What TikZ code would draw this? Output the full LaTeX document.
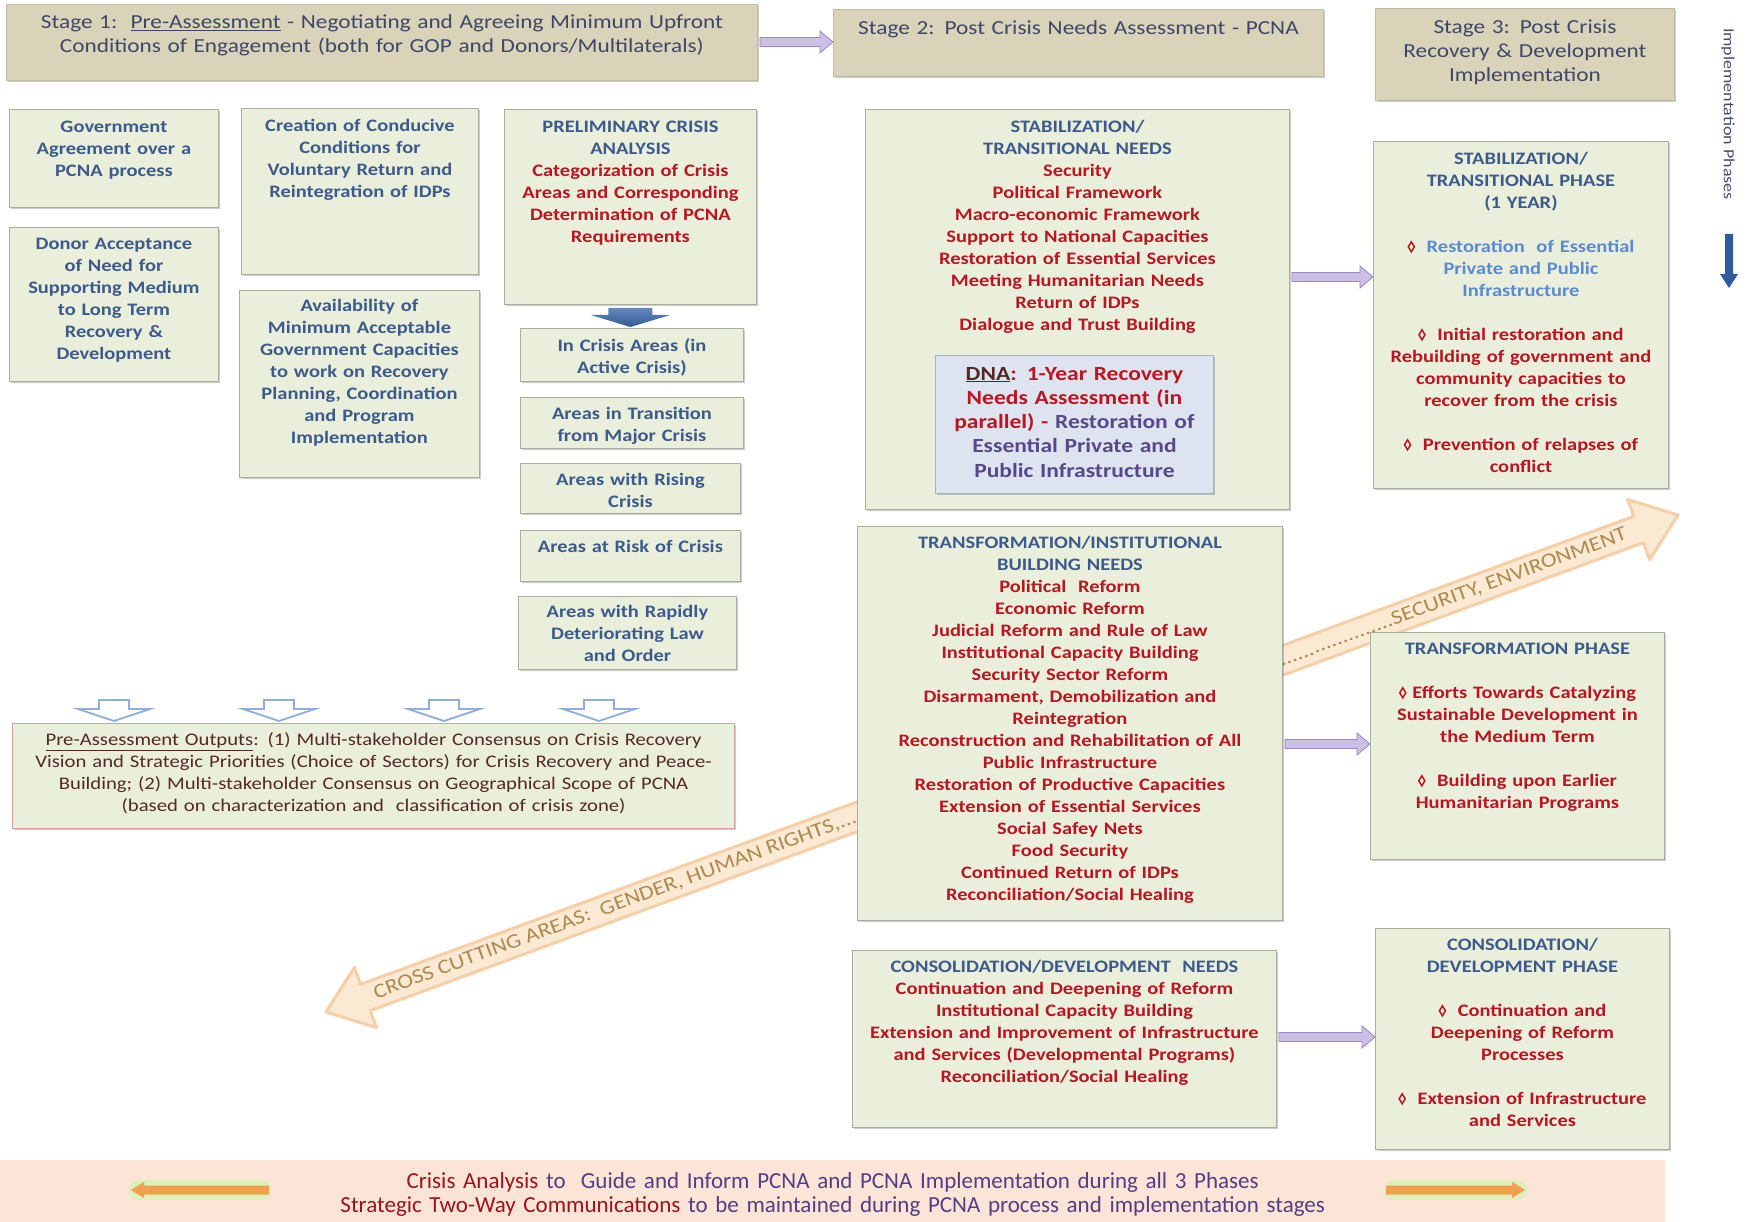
\documentclass[tikz,border=0pt]{standalone}
\usepackage{fontspec}
\setmainfont[FakeStretch=1.17]{Carlito}
\newfontfamily\btmfont{Carlito}
\usetikzlibrary{calc,shadows}

\definecolor{boxfill}{HTML}{EAEFDC}
\definecolor{boxdraw}{HTML}{ABAE9F}
\definecolor{stagefill}{HTML}{D9D3B9}
\definecolor{stagedraw}{HTML}{C2BBA0}
\definecolor{stagetext}{HTML}{3F4768}
\definecolor{bluet}{HTML}{3C5B8C}
\definecolor{redt}{HTML}{BA1520}
\definecolor{lbluet}{HTML}{5A8AD0}
\definecolor{purplet}{HTML}{58488A}
\definecolor{maroonD}{HTML}{552828}
\definecolor{dnafill}{HTML}{DDE4F0}
\definecolor{dnadraw}{HTML}{A8B2C6}
\definecolor{outdraw}{HTML}{D8A0A0}
\definecolor{parfill}{HTML}{CCBFE6}
\definecolor{pardraw}{HTML}{9A88C6}
\definecolor{barrow}{HTML}{3D6AAF}
\definecolor{hollow}{HTML}{8FAEDC}
\definecolor{ccfill}{HTML}{FBEAD3}
\definecolor{ccedge}{HTML}{F6CFA6}
\definecolor{cccol}{HTML}{AE8A50}
\definecolor{bandfill}{HTML}{FCE5D6}
\definecolor{orangea}{HTML}{F1A04E}
\definecolor{glowg}{HTML}{DDF0B8}
\definecolor{btmred}{HTML}{9E121C}
\definecolor{btmpurple}{HTML}{553D86}
\definecolor{implt}{HTML}{44506C}
\definecolor{implblue}{HTML}{2F5C9C}

\newcommand\lz{\tikz[baseline=0pt,x=1pt,y=1pt]\draw[redt,line width=1.5pt,line join=miter] (0,0.8) -- (3,5.8) -- (0,10.8) -- (-3,5.8) -- cycle;}
\newcommand\bx[6][]{\node[box,#1,anchor=north west,minimum width={#4-#2},minimum height={#5-#3}] (#6) at (#2,#3) {};}
\newcommand\rarr[6]{\path[#1] let \p1=#2, \p2=#3 in (\x1,\y1+#4) -- (\x2-#6,\y1+#4) -- (\x2-#6,\y1+#5) -- (\x2,\y1) -- (\x2-#6,\y1-#5) -- (\x2-#6,\y1-#4) -- (\x1,\y1-#4) -- cycle;}
\newcommand\larr[6]{\path[#1] let \p1=#2, \p2=#3 in (\x1,\y1+#4) -- (\x2+#6,\y1+#4) -- (\x2+#6,\y1+#5) -- (\x2,\y1) -- (\x2+#6,\y1-#5) -- (\x2+#6,\y1-#4) -- (\x1,\y1-#4) -- cycle;}

\begin{document}
\begin{tikzpicture}[x=1pt,y=-1pt,
  box/.style={draw=boxdraw, fill=boxfill, line width=0.9pt, inner sep=0pt, drop shadow={shadow xshift=1.5pt, shadow yshift=-1.5pt, opacity=0.2, fill=black}},
  stagebox/.style={draw=stagedraw, fill=stagefill},
  btext/.style={inner sep=0pt, align=center, anchor=north, font=\bfseries\fontsize{17.5}{22}\selectfont, execute at begin node=\strut},
  stext/.style={inner sep=0pt, align=center, anchor=north, text=stagetext, font=\fontsize{19.9}{24}\selectfont, execute at begin node=\strut},
  otext/.style={inner sep=0pt, align=center, anchor=north, text=maroonD, font=\fontsize{17.7}{21.9}\selectfont, execute at begin node=\strut},
  dtext/.style={inner sep=0pt, align=center, anchor=north, font=\bfseries\fontsize{20.1}{24.25}\selectfont, execute at begin node=\strut},
  bandtext/.style={inner sep=0pt, align=center, anchor=north, text=btmpurple, font=\btmfont\fontsize{23}{24}\selectfont, execute at begin node=\strut},
  cclabel/.style={inner sep=0pt, text=cccol, font=\fontsize{20.3}{22}\selectfont},
  parrow/.style={fill=parfill, draw=pardraw, line width=0.8pt},
  hollowarrow/.style={draw=hollow, line width=1.8pt, fill=white},
  ccarrow/.style={fill=ccfill, draw=ccedge, line width=3pt, line join=round},
  bluearrow/.style={top color=barrow!80!white, bottom color=barrow!85!black},
  orangearrow/.style={fill=orangea},
  glow/.style={draw=glowg, line width=20pt, line cap=round}
]
\fill[white] (0,0) rectangle (1746,1222);
\useasboundingbox (0,0) rectangle (1746,1222);

% ---------- cross cutting double arrow (behind boxes)
\coordinate (ca) at (326,1012);
\coordinate (cb) at (1678,515);
\coordinate (ha) at ($(ca)!42pt!(cb)$);
\coordinate (hb) at ($(cb)!42pt!(ca)$);
\path[ccarrow] (ca) -- ($(ha)!32pt!90:(cb)$) -- ($(ha)!14pt!90:(cb)$) -- ($(hb)!14pt!-90:(ca)$) -- ($(hb)!32pt!-90:(ca)$) -- (cb) -- ($(hb)!32pt!90:(ca)$) -- ($(hb)!14pt!90:(ca)$) -- ($(ha)!14pt!-90:(cb)$) -- ($(ha)!32pt!-90:(cb)$) -- cycle;
\node[cclabel, rotate=20.18] (cc1) at ($(ca)!0.216!(cb)$) {CROSS CUTTING AREAS:\ \ GENDER, HUMAN RIGHTS,....};
\node[cclabel, rotate=20.18, anchor=east] (cc2) at ($(ca)!0.962!(cb)$) {.....................SECURITY, ENVIRONMENT};

% ---------- Stage headers
\bx[stagebox]{6}{4}{757}{80}{s1}
\bx[stagebox]{833}{9}{1323}{76}{s2}
\bx[stagebox]{1375}{8}{1674}{100}{s3}
\node[stext, text width=745pt] (s1-t) at (s1.north |- 0,12) {Stage 1:\ \ \underline{Pre-Assessment} - Negotiating and Agreeing Minimum Upfront\\Conditions of Engagement (both for GOP and Donors/Multilaterals)};
\node[stext, text width=485pt] (s2-t) at (s2.north |- 0,18) {Stage 2: Post Crisis Needs Assessment - PCNA};
\node[stext, text width=295pt] (s3-t) at (s3.north |- 0,16.5) {Stage 3: Post Crisis\\Recovery \& Development\\Implementation};

\node[rotate=-90, text=implt, font=\fontsize{15.4}{18}\selectfont, inner sep=0pt] (impl) at (1728,114) {Implementation Phases};
\coordinate (ia) at (1729,234);
\coordinate (ib) at (1729,288);
\path[fill=implblue] let \p1=(ia), \p2=(ib) in (\x1-4pt,\y1) -- (\x1+4pt,\y1) -- (\x1+4pt,\y2+14pt) -- (\x1+9pt,\y2+14pt) -- (\x1,\y2) -- (\x1-9pt,\y2+14pt) -- (\x1-4pt,\y2+14pt) -- cycle;

% ---------- Stage 1 column boxes
\bx{9}{109}{218}{207}{gov}
\bx{9}{227}{218}{381}{donor}
\bx{241}{108}{478}{274}{creat}
\bx{239}{290}{479}{477}{avail}
\bx{504}{109}{756}{304}{prelim}
\bx{520}{328}{743}{381}{inc}
\bx{520}{397}{743}{448}{transA}
\bx{520}{463}{740}{513}{rising}
\bx{520}{530}{740}{581}{risk}
\bx{518}{596}{736}{669}{rapid}

\node[btext, text=bluet, text width=205pt] (gov-t) at (gov.north |- 0,117) {Government\\Agreement over a\\PCNA process};
\node[btext, text=bluet, text width=205pt] (donor-t) at (donor.north |- 0,234) {Donor Acceptance\\of Need for\\Supporting Medium\\to Long Term\\Recovery \&\\Development};
\node[btext, text=bluet, text width=233pt] (creat-t) at (creat.north |- 0,116) {Creation of Conducive\\Conditions for\\Voluntary Return and\\Reintegration of IDPs};
\node[btext, text=bluet, text width=236pt] (avail-t) at (avail.north |- 0,296) {Availability of\\Minimum Acceptable\\Government Capacities\\to work on Recovery\\Planning, Coordination\\and Program\\Implementation};
\node[btext, text width=248pt] (prelim-t) at (prelim.north |- 0,117) {\color{bluet}PRELIMINARY CRISIS\\ANALYSIS\\\color{redt}Categorization of Crisis\\Areas and Corresponding\\Determination of PCNA\\Requirements};
\node[btext, text=bluet, text width=220pt] (inc-t) at (inc.north |- 0,336) {In Crisis Areas (in\\Active Crisis)};
\node[btext, text=bluet, text width=220pt] (transA-t) at (transA.north |- 0,404) {Areas in Transition\\from Major Crisis};
\node[btext, text=bluet, text width=217pt] (rising-t) at (rising.north |- 0,470) {Areas with Rising\\Crisis};
\node[btext, text=bluet, text width=217pt] (risk-t) at (risk.north |- 0,537) {Areas at Risk of Crisis};
\node[btext, text=bluet, text width=215pt] (rapid-t) at (rapid.north |- 0,602) {Areas with Rapidly\\Deteriorating Law\\and Order};

% blue arrow from analysis to categories
\path[bluearrow] let \p1=(prelim.south), \p2=(inc.north) in (\x1-22pt,\y1-3pt) -- (\x1+22pt,\y1-3pt) -- (\x1+22pt,\y1-10pt) -- (\x1+40pt,\y1-10pt) -- (\x1,\y2+1pt) -- (\x1-40pt,\y1-10pt) -- (\x1-22pt,\y1-10pt) -- cycle;

% ---------- outputs
\bx[draw=outdraw, line width=1.2pt]{12}{723}{734}{828}{outputs}
\foreach \hx in {114,279,444,599}{
  \path[hollowarrow] (\hx-15,700) -- (\hx+15,700) -- (\hx+15,709) -- (\hx+36,709) -- (\hx,721) -- (\hx-36,709) -- (\hx-15,709) -- cycle;
}
\node[otext, text width=718pt] (outputs-t) at (outputs.north |- 0,730) {\underline{Pre-Assessment Outputs}: (1) Multi-stakeholder Consensus on Crisis Recovery\\Vision and Strategic Priorities (Choice of Sectors) for Crisis Recovery and Peace-\\Building; (2) Multi-stakeholder Consensus on Geographical Scope of PCNA\\(based on characterization and\ \ classification of crisis zone)};

% ---------- Stage 2 column
\bx{865}{109}{1289}{509}{stabN}
\bx[draw=dnadraw, fill=dnafill]{935}{355}{1213}{493}{dna}
\bx{857}{526}{1282}{920}{transN}
\bx{852}{950}{1276}{1127}{consN}

\node[btext, text width=418pt] (stabN-t) at (stabN.north |- 0,117) {\color{bluet}STABILIZATION/\\TRANSITIONAL NEEDS\\\color{redt}Security\\Political Framework\\Macro-economic Framework\\Support to National Capacities\\Restoration of Essential Services\\Meeting Humanitarian Needs\\Return of IDPs\\Dialogue and Trust Building};
\node[dtext, text width=274pt] (dna-t) at (dna.north |- 0,363) {\color{maroonD}\underline{DNA}\color{redt}: 1-Year Recovery\\Needs Assessment (in\\parallel) - \color{purplet}Restoration of\\Essential Private and\\Public Infrastructure};
\node[btext, text width=420pt] (transN-t) at (transN.north |- 0,533) {\color{bluet}TRANSFORMATION/INSTITUTIONAL\\BUILDING NEEDS\\\color{redt}Political\ \ Reform\\Economic Reform\\Judicial Reform and Rule of Law\\Institutional Capacity Building\\Security Sector Reform\\Disarmament, Demobilization and\\Reintegration\\Reconstruction and Rehabilitation of All\\Public Infrastructure\\Restoration of Productive Capacities\\Extension of Essential Services\\Social Safey Nets\\Food Security\\Continued Return of IDPs\\Reconciliation/Social Healing};
\node[btext, text width=420pt] (consN-t) at (consN.north |- 0,957) {\color{bluet}CONSOLIDATION/DEVELOPMENT\ \ NEEDS\\\color{redt}Continuation and Deepening of Reform\\Institutional Capacity Building\\Extension and Improvement of Infrastructure\\and Services (Developmental Programs)\\Reconciliation/Social Healing};

% ---------- Stage 3 column
\bx{1373}{141}{1668}{488}{stabP}
\bx{1370}{632}{1664}{859}{transP}
\bx{1375}{928}{1669}{1149}{consP}

\node[btext, text width=292pt] (stabP-t) at (stabP.north |- 0,149) {\color{bluet}STABILIZATION/\\TRANSITIONAL PHASE\\(1 YEAR)\\[22pt]\lz\ \ \color{lbluet}Restoration\ \ of Essential\\Private and Public\\Infrastructure\\[22pt]\color{redt}\lz\ \ Initial restoration and\\Rebuilding of government and\\community capacities to\\recover from the crisis\\[22pt]\lz\ \ Prevention of relapses of\\conflict};
\node[btext, text width=290pt] (transP-t) at (transP.north |- 0,639) {\color{bluet}TRANSFORMATION PHASE\\[22pt]\color{redt}\lz\ Efforts Towards Catalyzing\\Sustainable Development in\\the Medium Term\\[22pt]\lz\ \ Building upon Earlier\\Humanitarian Programs};
\node[btext, text width=290pt] (consP-t) at (consP.north |- 0,935) {\color{bluet}CONSOLIDATION/\\DEVELOPMENT PHASE\\[22pt]\color{redt}\lz\ \ Continuation and\\Deepening of Reform\\Processes\\[22pt]\lz\ \ Extension of Infrastructure\\and Services};

% ---------- purple connectors
\coordinate (pa1) at (s1.east |- 0,42);
\coordinate (pa2) at (s2.west |- 0,42);
\coordinate (pb1) at (stabN.east |- 0,277);
\coordinate (pb2) at (stabP.west |- 0,277);
\coordinate (pc1) at (transN.east |- 0,744);
\coordinate (pc2) at (transP.west |- 0,744);
\coordinate (pd1) at (consN.east |- 0,1037);
\coordinate (pd2) at (consP.west |- 0,1037);
\rarr{parrow}{([xshift=2pt]pa1)}{(pa2)}{4.5pt}{11pt}{13pt}
\rarr{parrow}{([xshift=2pt]pb1)}{(pb2)}{4.5pt}{11pt}{13pt}
\rarr{parrow}{([xshift=2pt]pc1)}{(pc2)}{4.5pt}{11pt}{13pt}
\rarr{parrow}{([xshift=2pt]pd1)}{(pd2)}{4.5pt}{11pt}{13pt}

% ---------- bottom band
\node[anchor=north west, fill=bandfill, minimum width=1665pt, minimum height=62pt, inner sep=0pt] (band) at (0,1160) {};
\node[bandtext, text width=1200pt] (band-t) at (band.north |- 0,1171) {{\color{btmred}Crisis Analysis} to\ \ Guide and Inform PCNA and PCNA Implementation during all 3 Phases\\{\color{btmred}Strategic Two-Way Communications} to be maintained during PCNA process and implementation stages};
\coordinate (ol1) at (269,1190);
\coordinate (ol2) at (131,1190);
\coordinate (or1) at (1386,1190);
\coordinate (or2) at (1525,1190);
\draw[glow] ([xshift=-8pt]ol1) -- ([xshift=8pt]ol2);
\draw[glow] ([xshift=8pt]or1) -- ([xshift=-8pt]or2);
\larr{orangearrow}{(ol1)}{(ol2)}{4.5pt}{8pt}{13pt}
\rarr{orangearrow}{(or1)}{(or2)}{4.5pt}{8pt}{13pt}
\end{tikzpicture}
\end{document}
